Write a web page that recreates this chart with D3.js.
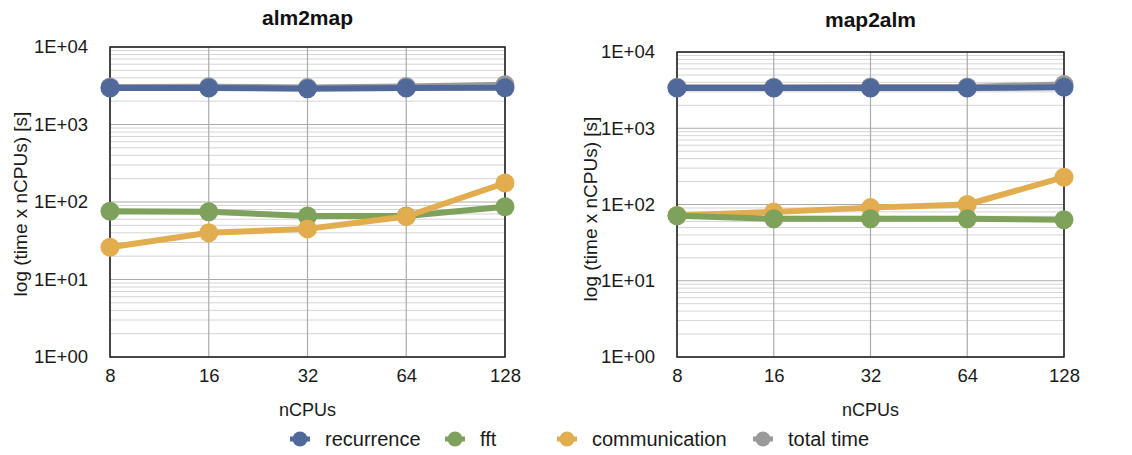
<!DOCTYPE html>
<html>
<head>
<meta charset="utf-8">
<script src="https://cdn.jsdelivr.net/npm/d3@7"></script>
<style>
  html, body { margin: 0; padding: 0; background: #fff; }
  svg { display: block; font-family: "Liberation Sans", Arial, Helvetica, sans-serif; }
</style>
</head>
<body>
<svg id="chart" width="1132" height="455"></svg>
<script>
// Processor counts on the x axis
const nCPUs = [8, 16, 32, 64, 128];
const yTickValues = [1, 10, 100, 1000, 10000];
const seriesNames = ["recurrence", "fft", "communication", "total time"];
const seriesColors = ["#50699a", "#7ea25b", "#e2ad4f", "#9a9a9a"];

// alm2map timings (time x nCPUs, seconds)
const alm2mapRecurrence = [2950, 2950, 2900, 2950, 2980];
const alm2mapFft = [76, 75, 66, 66, 87];
const alm2mapCommunication = [26, 40, 45, 65, 176];
const alm2mapTotal = [3050, 3065, 3010, 3090, 3260];

// map2alm timings (time x nCPUs, seconds)
const map2almRecurrence = [3360, 3360, 3360, 3360, 3450];
const map2almFft = [71, 65, 65, 65, 63];
const map2almCommunication = [72, 80, 91, 100, 228];
const map2almTotal = [3440, 3450, 3470, 3480, 3760];

const panels = [
  { title: "alm2map", left: 110, right: 505, top: 47, bottom: 357, ylabX: 20, ylabY: 204, titleY: 25,
    series: [alm2mapTotal, alm2mapRecurrence, alm2mapFft, alm2mapCommunication],
    order: [3, 0, 1, 2] },
  { title: "map2alm", left: 677, right: 1064, top: 52, bottom: 357, ylabX: 590, ylabY: 209, titleY: 27,
    series: [map2almTotal, map2almRecurrence, map2almCommunication, map2almFft],
    order: [3, 0, 2, 1] }
];

const svg = d3.select("#chart");
const fmtExp = d => "1E+" + String(Math.round(Math.log10(d))).padStart(2, "0");

panels.forEach(p => {
  const x = d3.scaleLog().base(2).domain([8, 128]).range([p.left, p.right]);
  const y = d3.scaleLog().domain([1, 10000]).range([p.bottom, p.top]);
  const g = svg.append("g");

  // minor horizontal grid (2..9 within each decade)
  const minor = [];
  for (let e = 0; e < 4; e++) for (let k = 2; k <= 9; k++) minor.push(k * Math.pow(10, e));
  g.append("g").selectAll("line").data(minor).join("line")
    .attr("x1", p.left).attr("x2", p.right)
    .attr("y1", d => y(d)).attr("y2", d => y(d))
    .attr("stroke", "#d4d4d4").attr("stroke-width", 1);

  // major horizontal grid
  g.append("g").selectAll("line").data(yTickValues).join("line")
    .attr("x1", p.left).attr("x2", p.right)
    .attr("y1", d => y(d)).attr("y2", d => y(d))
    .attr("stroke", "#ababab").attr("stroke-width", 1.2);

  // vertical grid
  g.append("g").selectAll("line").data(nCPUs).join("line")
    .attr("x1", d => x(d)).attr("x2", d => x(d))
    .attr("y1", p.top).attr("y2", p.bottom)
    .attr("stroke", "#ababab").attr("stroke-width", 1.2);

  // plot frame
  g.append("rect")
    .attr("x", p.left).attr("y", p.top)
    .attr("width", p.right - p.left).attr("height", p.bottom - p.top)
    .attr("fill", "none").attr("stroke", "#1a1a1a").attr("stroke-width", 1.5);

  // axes (labels only)
  const yAxis = g.append("g").attr("transform", `translate(${p.left},0)`)
    .call(d3.axisLeft(y).tickValues(yTickValues).tickFormat(fmtExp).tickSize(0).tickPadding(22));
  const xAxis = g.append("g").attr("transform", `translate(0,${p.bottom})`)
    .call(d3.axisBottom(x).tickValues(nCPUs).tickFormat(d3.format("d")).tickSize(0).tickPadding(12));
  [yAxis, xAxis].forEach(a => {
    a.select(".domain").remove();
    a.selectAll("text").attr("font-size", 18.5).attr("fill", "#1a1a1a")
      .attr("font-family", "'Liberation Sans', Arial, sans-serif");
  });

  // titles
  g.append("text").attr("x", (p.left + p.right) / 2).attr("y", p.titleY)
    .attr("text-anchor", "middle").attr("font-size", 21).attr("font-weight", "bold")
    .attr("fill", "#111").text(p.title);
  g.append("text").attr("x", (p.left + p.right) / 2).attr("y", 416)
    .attr("text-anchor", "middle").attr("font-size", 18).attr("fill", "#1a1a1a").text("nCPUs");
  g.append("text")
    .attr("transform", `translate(${p.ylabX},${p.ylabY}) rotate(-90)`)
    .attr("text-anchor", "middle").attr("dy", "0.35em")
    .attr("font-size", 19).attr("fill", "#1a1a1a").text("log (time x nCPUs) [s]");

  // series lines and markers
  const line = d3.line().x((d, i) => x(nCPUs[i])).y(d => y(d));
  p.series.forEach((vals, si) => {
    const color = seriesColors[p.order[si]];
    const sg = g.append("g");
    sg.append("path").datum(vals).attr("d", line)
      .attr("fill", "none").attr("stroke", color).attr("stroke-width", 6)
      .attr("stroke-linejoin", "round");
    sg.selectAll("circle").data(vals).join("circle")
      .attr("cx", (d, i) => x(nCPUs[i])).attr("cy", d => y(d)).attr("r", 9.5)
      .attr("fill", color);
  });
});

// legend
const legendX = [300, 455, 567, 763];
const lg = svg.append("g").attr("transform", "translate(0,439)");
seriesNames.forEach((name, i) => {
  const it = lg.append("g").attr("transform", `translate(${legendX[i]},0)`);
  it.append("line").attr("x1", -10).attr("x2", 10).attr("y1", 0).attr("y2", 0)
    .attr("stroke", seriesColors[i]).attr("stroke-width", 5);
  it.append("circle").attr("r", 7.5).attr("fill", seriesColors[i]);
  it.append("text").attr("x", 25).attr("dy", "0.35em")
    .attr("font-size", 20).attr("fill", "#1a1a1a").text(name);
});
</script>
</body>
</html>
